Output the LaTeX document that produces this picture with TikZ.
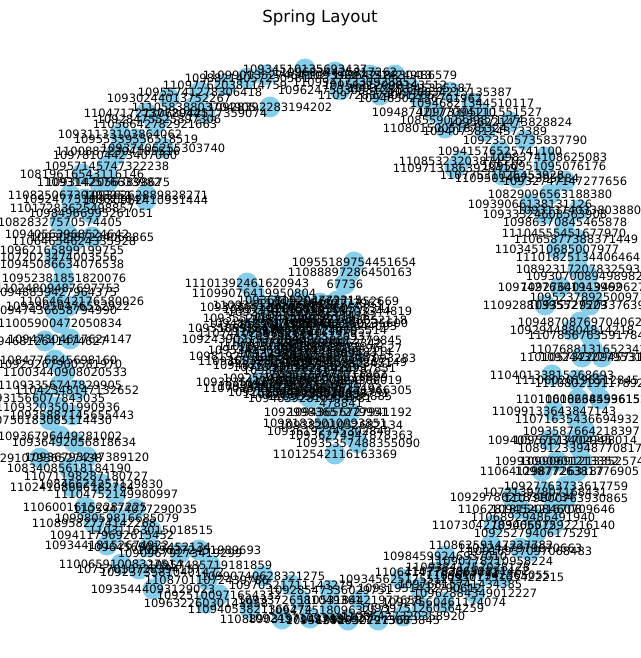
\documentclass[tikz,border=0pt]{standalone}
\usepackage{fontspec}
\setmainfont{DejaVu Sans}
\definecolor{skyblue}{HTML}{87CEEB}
\tikzset{
  dot/.style={circle,fill=skyblue,minimum size=21pt,inner sep=0pt},
  lbl/.style={inner sep=0pt,font=\fontsize{11.5}{12}\selectfont},
  ttl/.style={inner sep=0pt,font=\fontsize{16.6}{18}\selectfont}
}
\def\nodelist{%
305/69/10934510135693437,247/78/10988214057230581,265/75/11099013527464102,225/85/11097762038114759,
200/92/10955741278306418,169/98/10930244013752267,194/107/11105838803704905,270/107/10928392283194202,
146/113/11047172737720441,205/113/11068942517359074,159/119/10928475525897306,155/124/11056642782921663,
120/134/10931133103864062,136/139/10955339556518519,163/148/10937405255303740,118/151/11008872304185516,
115/155/10978104423407060,107/166/10957145747322238,82/174/10819616543116146,99/182/11093142576633982,
108/182/10931420563898675,70/195/11082506730203251,146/195/10936262889828271,85/199/10924775188621047,
146/200/10930962410931444,72/208/11017283625498857,91/213/10984966995261051,
335/72/11096834425817262,370/75/10939627351424913,395/75/10964218330486579,355/82/11099417330928852,
385/85/10956312098143512,410/88/10937221845335387,450/92/10948834215135387,340/90/10962475030931281,
380/95/11097283740612652,420/98/10948502136701962,472/103/10946821344510117,434/112/10948742177094110,
480/112/10973305211551527,462/120/10855902239871274,510/122/10956221473828824,445/128/11080150051875324,
485/131/10940738124373389,525/140/10923505735837790,500/151/10941576525741100,545/157/11098374108625083,
461/161/11085323203874516,544/166/10950951095076176,455/168/11097131863928419,517/178/11095014672395284,
565/181/10932747147277656,502/175/11077531026453928,
550/194/10829096563188380,530/204/10939066138131126,579/210/10931374033803880,545/214/10933324608563908,
565/222/10986370845465878,564/233/11104555451677970,576/239/11065877388371449,557/249/11034510685007977,
578/257/11101825134406464,578/269/10892317207832593,588/276/10930700894989826,560/287/10974276301943962,
583/287/10927640119499627,592/297/10952378925009714,545/305/11092881395527529,590/305/10935729203376396,
580/322/10948708769704062,572/330/10929448804814218,590/335/11078567635917842,592/349/11076881316523427,
582/357/11010573220945731,602/357/10924432279531465,552/375/11040133815268693,577/380/11106020196512845,
597/383/11108021911789234,578/399/11010608264599615,600/399/11010638453615206,554/411/11099133643847143,
577/419/11071635436694932,585/431/10935876642183971,550/440/10940576173402945,575/440/10957617704298014,
580/448/10891233948770817,557/461/10993000901213352,582/461/10990691213352574,542/471/11064129877263187,
577/471/10987726381776905,566/486/10927763733617759,545/492/10721397807168431,512/497/10929786218310734,
566/498/11079800763930865,520/509/11062818154216708,553/509/10945208460709646,533/517/11068929486491940,
494/525/11073042783065512,553/525/10940607592216140,536/533/10925279406175291,
491/545/11086259147227782,520/548/11012447979670663,530/551/10916937097068483,445/556/10984599246937010,
491/561/11090778710958224,468/567/11093841752028128,437/572/11064147782663021,467/571/11077338652831462,
488/575/11096177342365055,502/577/10950179165422215,401/579/10934562517551213,460/584/10976815741434385,
420/588/10931951432790612,475/593/10962884349012227,444/602/10927560461174074,422/608/10939751260564259,
403/616/11085427320358920,378/620/10929307215673845,348/620/10956348652297308,310/618/10924571093481627,
282/619/11088903197142753,291/585/10970521711143279,263/576/10990740628321275,330/590/10928547336029751,
360/600/11053184421977658,300/600/10933726581049361,250/609/11094053821366274,330/610/10947251809632571,
206/603/10963226030143958,219/595/10925100971654332,153/589/10935444093129023,207/580/11087011072439786,
162/572/10923735810401472,139/569/10757010728394157,210/565/10957485719181859,121/564/11006591008327514,
180/553/10909679273419299,199/550/10956372451989693,149/547/10964569013452134,107/545/10934418152674922,
112/535/10941179692615452,151/530/11031163015018515,94/523/11089582774142268,117/518/10998059816685079,
135/509/11059474077290035,85/507/11060016152287225,116/494/11104752149980997,72/487/11024108666182784,
101/484/10846624257129830,86/476/11071198287180727,69/468/10834085618184190,87/457/10936793247389120,
40/458/10929107936527438,74/442/10936492056818634,60/436/10936796449281002,50/420/10750183085114430,
72/415/10935887145655443,58/407/11093203501990936,43/398/10931566077843035,77/390/11042348147132652,
60/385/11093356747829905,65/372/11003440908020533,60/364/10929267900581970,55/360/11084776845698160,
70/339/10947304617624147,45/341/10946812641474627,60/323/11005900472050834,55/310/10947436658794990,
68/306/10928050476552922,82/301/11064642176580026,55/292/10948839427964375,58/288/11024809487697753,
64/278/10952381851820076,62/264/10945086634076538,55/257/11072023474003556,62/250/10962165899199755,
74/241/11064654624335928,67/234/10940563968524642,92/237/10930587234068865,60/222/10828327570574405,
354/262/10955189754451654,350/272/11088897286450163,345/284/67736,247/283/11101392461620943,
254/293/11099076419950804,337/301/10929466271452669,262/307/10933365124708613,346/323/10937284150235600,
244/339/10924390215376842,251/356/10981927011635409,354/358/10945621387093283,334/368/10938215470937851,
326/377/10931806375118899,258/382/10938351462907381,327/393/10947125036598751,330/396/11093588585585885,
341/403/478841,326/412/10929983657279951,350/412/10943656727941192,325/423/10981835010093851,
341/425/10938201052682134,329/431/10936192745302840,351/435/10936274947878363,358/443/10935357488355090,
335/454/11012542116163369,
300/300/10936815204773315,275/305/11093852607714428,330/308/10947721360598341,290/312/10924183650927356,
315/316/11087350296114782,265/318/10935520684719903,345/320/10941277093652118,300/324/11096035187442291,
280/328/10932869451307726,325/330/10958317240695514,260/333/11074102598316640,310/336/10929654873120937,
340/340/10946038512779845,285/342/11090173264859902,300/347/10937780146325168,270/350/10952419685037421,
330/352/11081647239058314,315/357/10924901736652083,290/360/10939572618340577,345/362/11097315840267149,
275/365/10948260937185536,305/370/10933807125694428,325/374/11086529473011862,285/378/10925643189027734,
340/380/10957190824366019,300/384/10941638527209915,265/388/11070284561397326,320/388/10934775208615493,
290/392/10928137446905264,310/398/10946592810374681,
320/303/11092536480172963,285/309/10937402815569327,350/311/10926158703344819,305/319/11081749263305552,
270/323/10948623017985541,335/326/10930157826644093,295/331/11096740358221876,250/328/10935869124707265,
320/343/10924718509963342,280/346/11078230694150718,340/348/10957063182496627,300/353/10932984517206694,
260/361/11093651280473318,330/363/10946175903828451,295/367/10928507346651893,315/380/11085216437920076,
280/386/10939408261751148,350/390/10950837421966305,305/394/11089624753018837}
\begin{document}
\begin{tikzpicture}[x=1pt,y=-1pt]
\useasboundingbox (0,0) rectangle (640,658);
\node[ttl] (title) at (320,18) {Spring Layout};
\foreach \p/\q/\t [count=\i] in \nodelist {\node[dot] (n\i) at (\p,\q) {};}
\foreach \p/\q/\t [count=\i] in \nodelist {\node[lbl] (l\i) at (\p,\q) {\t};}
\end{tikzpicture}
\end{document}
